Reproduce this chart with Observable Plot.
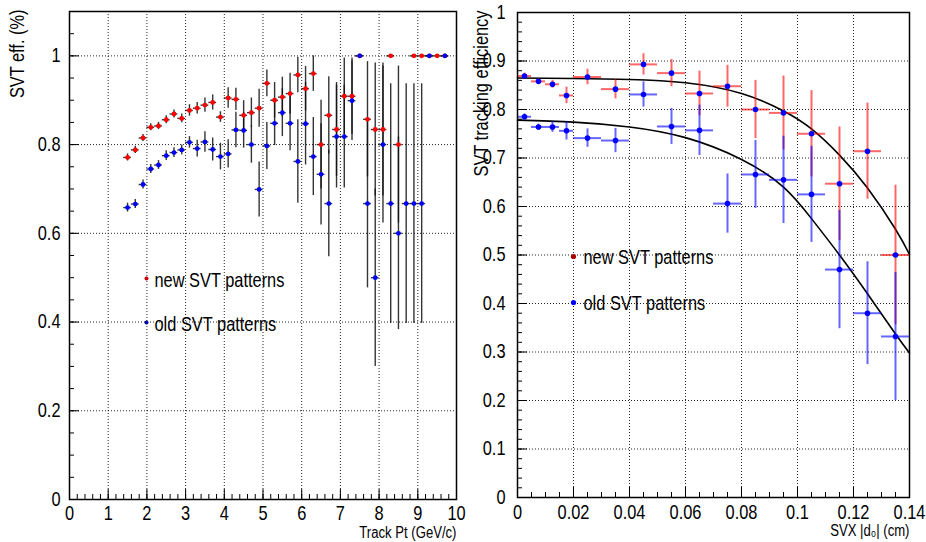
<!DOCTYPE html>
<html><head><meta charset="utf-8">
<script src="https://cdn.jsdelivr.net/npm/d3@7"></script>
<script src="https://cdn.jsdelivr.net/npm/@observablehq/plot@0.6"></script>
<style>
body{margin:0;background:#fff;}
#wrap{width:926px;height:542px;display:flex;background:#fff;}
.panel{width:463px;height:542px;}
</style></head>
<body><div id="wrap"><div class="panel" id="left"></div><div class="panel" id="right"></div></div>
<script>
// ---------- Left panel data: efficiency vs Track Pt ----------
const newPt  = [1.5,1.7,1.9,2.1,2.3,2.5,2.7,2.9,3.1,3.3,3.5,3.7,3.9,4.1,4.3,4.5,4.7,4.9,5.1,5.3,5.5,5.7,5.9,6.1,6.3,6.5,6.7,6.9,7.1,7.3,7.5,7.7,7.9,8.1,8.3,8.5,8.9,9.1,9.3,9.5,9.7];
const newEff = [0.771,0.788,0.815,0.839,0.842,0.856,0.869,0.859,0.877,0.882,0.889,0.895,0.862,
                0.905,0.902,0.866,0.872,0.882,0.938,0.900,0.907,0.915,0.957,0.926,0.960,
                0.800,0.866,0.834,0.909,0.909,1.0,0.857,0.834,0.834,1.0,0.800,
                1.0,1.0,1.0,1.0,1.0];
const newErr = [0.008,0.008,0.008,0.008,0.008,0.009,0.009,0.010,0.013,0.013,0.016,0.017,0.012,
                0.023,0.025,0.033,0.033,0.043,0.030,0.040,0.045,0.046,0.040,0.050,0.040,
                0.100,0.087,0.106,0.086,0.086,0,0.130,0.150,0.150,0,0.177,
                0,0,0,0,0];
const oldPt  = [1.5,1.7,1.9,2.1,2.3,2.5,2.7,2.9,3.1,3.3,3.5,3.7,3.9,4.1,4.3,4.5,4.7,4.9,5.1,5.3,5.5,5.7,5.9,6.1,6.3,6.5,6.7,6.9,7.1,7.3,7.5,7.7,7.9,8.1,8.3,8.5,8.7,8.9,9.1,9.3,9.7];
const oldEff = [0.658,0.666,0.710,0.745,0.754,0.775,0.782,0.788,0.805,0.791,0.806,0.789,0.773,
                0.779,0.833,0.832,0.800,0.699,0.797,0.848,0.872,0.848,0.762,0.847,0.773,
                0.733,0.667,0.818,0.818,0.899,1.0,0.667,0.500,0.800,0.667,0.600,
                0.667,0.667,0.667,1.0,1.0];
const oldErr = [0.010,0.010,0.010,0.010,0.010,0.011,0.011,0.011,0.013,0.019,0.023,0.026,0.030,
                0.032,0.040,0.040,0.042,0.062,0.053,0.050,0.054,0.062,0.094,0.093,0.088,
                0.114,0.120,0.116,0.116,0.090,0,0.190,0.200,0.177,0.270,0.217,
                0.270,0.270,0.270,0,0];
const ptHalfWidth = 0.1;
const ptTicks  = [0,1,2,3,4,5,6,7,8,9,10];
const ptLabels = ["0","1","2","3","4","5","6","7","8","9","10"];
const effTicksL  = [0,0.2,0.4,0.6,0.8,1];
const effLabelsL = ["0","0.2","0.4","0.6","0.8","1"];

// ---------- Right panel data: efficiency vs SVX |d0| ----------
const d0Center = [0.0025,0.0075,0.0125,0.0175,0.025,0.035,0.045,0.055,0.065,0.075,0.085,0.095,0.105,0.115,0.125,0.135];
const d0Half   = [0.0025,0.0025,0.0025,0.0025,0.005,0.005,0.005,0.005,0.005,0.005,0.005,0.005,0.005,0.005,0.005,0.005];
const d0New    = [0.869,0.858,0.852,0.829,0.867,0.842,0.893,0.875,0.833,0.848,0.800,0.793,0.750,0.647,0.714,0.500];
const d0NewErr = [0.006,0.006,0.008,0.017,0.016,0.020,0.022,0.028,0.046,0.043,0.060,0.076,0.089,0.117,0.099,0.144];
const d0Old    = [0.785,0.764,0.764,0.756,0.741,0.736,0.831,0.765,0.757,0.606,0.666,0.655,0.625,0.470,0.380,0.332];
const d0OldErr = [0.006,0.006,0.011,0.019,0.019,0.025,0.026,0.037,0.052,0.061,0.070,0.090,0.099,0.122,0.106,0.132];
// fit curves
const fitD     = [0,0.02,0.04,0.06,0.08,0.095,0.105,0.115,0.125,0.135,0.14];
const fitNew   = [0.865,0.864,0.862,0.855,0.833,0.797,0.760,0.706,0.638,0.553,0.501];
const fitOld   = [0.778,0.774,0.764,0.742,0.697,0.640,0.575,0.500,0.420,0.337,0.298];
const d0Ticks  = [0,0.02,0.04,0.06,0.08,0.1,0.12,0.14];
const d0Labels = ["0","0.02","0.04","0.06","0.08","0.1","0.12","0.14"];
const effTicksR  = [0,0.1,0.2,0.3,0.4,0.5,0.6,0.7,0.8,0.9,1];
const effLabelsR = ["0","0.1","0.2","0.3","0.4","0.5","0.6","0.7","0.8","0.9","1"];

const FONT = '"Liberation Sans",Arial,sans-serif';
const gridStyle = {stroke:"#000", strokeOpacity:0.85, strokeDasharray:"1,2", strokeWidth:1};

function axes(xt, xl, xminor, yt, yl, yminor, xPad, yPad) {
  return [
    Plot.axisX({ticks:xt, tickFormat:(d,i)=>xl[i], tickSize:-10, tickPadding:xPad, fontSize:20, label:null}),
    Plot.axisX({ticks:xminor, tickFormat:()=>"", tickSize:-5, label:null}),
    Plot.axisY({ticks:yt, tickFormat:(d,i)=>yl[i], tickSize:-10, tickPadding:yPad, fontSize:20, label:null}),
    Plot.axisY({ticks:yminor, tickFormat:()=>"", tickSize:-5, label:null})
  ];
}

// narrow the Helvetica-like glyphs (original uses a narrow Helvetica) along each text's own direction
function condense(svg, k) {
  svg.querySelectorAll("text").forEach(t => {
    const tr = t.getAttribute("transform");
    if (tr && t.textContent) t.setAttribute("transform", tr + ` scale(${k},1)`);
  });
}

// ---------- Left ----------
const rowsL = (X, Y, E) => X.map((x,i)=>({x, y:Y[i], lo:Math.max(0,Y[i]-E[i]), hi:Math.min(1,Y[i]+E[i])}));
const newL = rowsL(newPt, newEff, newErr);
const oldL = rowsL(oldPt, oldEff, oldErr);
const ptMinor = d3.range(0, 51).map(i=>i*0.2);
const effMinorL = d3.range(0, 23).map(i=>i*0.05);

const left = Plot.plot({
  width:463, height:542, marginLeft:69, marginRight:7, marginTop:11, marginBottom:43,
  style:{fontFamily:FONT, fontSize:"20px", background:"none", overflow:"visible"},
  x:{domain:[0,10], label:null},
  y:{domain:[0,1.1], label:null},
  marks:[
    Plot.gridX(ptTicks.slice(1,-1), gridStyle),
    Plot.gridY(effTicksL.slice(1), gridStyle),
    ...[newL, oldL].flatMap(R => [
      Plot.ruleX(R, {x:"x", y1:"lo", y2:"hi", stroke:"#111", strokeOpacity:0.85, strokeWidth:1.4}),
      Plot.ruleY(R, {y:"y", x1:d=>d.x-ptHalfWidth, x2:d=>d.x+ptHalfWidth, stroke:"#111", strokeOpacity:0.85, strokeWidth:1.4})
    ]),
    Plot.dot(newL, {x:"x", y:"y", r:2.4, fill:"#ff0000"}),
    Plot.dot(oldL, {x:"x", y:"y", r:2.4, fill:"#0000ff"}),
    Plot.frame({stroke:"#000", strokeWidth:1.5}),
    ...axes(ptTicks, ptLabels, ptMinor, effTicksL, effLabelsL, effMinorL, 16, 19),
    Plot.text(["Track Pt (GeV/c)"], {frameAnchor:"bottom-right", textAnchor:"end", lineAnchor:"bottom", dy:38, fontSize:16}),
    Plot.text(["SVT eff. (%)"], {frameAnchor:"top-left", rotate:-90, textAnchor:"end", lineAnchor:"bottom", dx:-46, dy:-2, fontSize:20}),
    Plot.dot([0], {frameAnchor:"top-left", dx:77, dy:267, r:2, fill:"#cc0000"}),
    Plot.text(["new SVT patterns"], {frameAnchor:"top-left", dx:85, dy:269, textAnchor:"start", lineAnchor:"middle", fontSize:20}),
    Plot.dot([0], {frameAnchor:"top-left", dx:77, dy:311, r:2, fill:"#0000aa"}),
    Plot.text(["old SVT patterns"], {frameAnchor:"top-left", dx:85, dy:313, textAnchor:"start", lineAnchor:"middle", fontSize:20})
  ]
});
document.getElementById("left").appendChild(left);
condense(left, 0.82);

// ---------- Right ----------
const rowsR = (Y, E) => d0Center.map((x,i)=>({x, h:d0Half[i], y:Y[i], lo:Y[i]-E[i], hi:Math.min(1,Y[i]+E[i])}));
const newR = rowsR(d0New, d0NewErr);
const oldR = rowsR(d0Old, d0OldErr);
const fitRowsNew = fitD.map((x,i)=>({x, y:fitNew[i]}));
const fitRowsOld = fitD.map((x,i)=>({x, y:fitOld[i]}));
const d0Minor = d3.range(0, 29).map(i=>i*0.005);
const effMinorR = d3.range(0, 51).map(i=>i*0.02);

const right = Plot.plot({
  width:463, height:542, marginLeft:54, marginRight:17, marginTop:12, marginBottom:45,
  style:{fontFamily:FONT, fontSize:"20px", background:"none", overflow:"visible"},
  x:{domain:[0,0.14], label:null},
  y:{domain:[0,1], label:null},
  marks:[
    Plot.gridX(d0Ticks.slice(1), gridStyle),
    Plot.gridY(effTicksR.slice(1,-1), gridStyle),
    Plot.line(fitRowsNew, {x:"x", y:"y", curve:"natural", stroke:"#000", strokeWidth:1.6}),
    Plot.line(fitRowsOld, {x:"x", y:"y", curve:"natural", stroke:"#000", strokeWidth:1.6}),
    ...[[newR,"#ff0000"],[oldR,"#0000ff"]].flatMap(([R,c]) => [
      Plot.ruleX(R, {x:"x", y1:"lo", y2:"hi", stroke:c, strokeOpacity:0.6, strokeWidth:2}),
      Plot.ruleY(R, {y:"y", x1:d=>d.x-d.h, x2:d=>d.x+d.h, stroke:c, strokeOpacity:0.6, strokeWidth:2})
    ]),
    Plot.dot(newR, {x:"x", y:"y", r:2.8, fill:"#0000ff"}),
    Plot.dot(oldR, {x:"x", y:"y", r:2.8, fill:"#0000ff"}),
    Plot.frame({stroke:"#000", strokeWidth:1.5}),
    ...axes(d0Ticks, d0Labels, d0Minor, effTicksR, effLabelsR, effMinorR, 17, 22),
    Plot.text(["SVX |d\u2080| (cm)"], {frameAnchor:"bottom-right", textAnchor:"end", lineAnchor:"bottom", dy:38, fontSize:16}),
    Plot.text(["SVT tracking efficiency"], {frameAnchor:"top-left", rotate:-90, textAnchor:"end", lineAnchor:"bottom", dx:-30, dy:-2, fontSize:20}),
    Plot.dot([0], {frameAnchor:"top-left", dx:56, dy:244, r:2.6, fill:"#aa0000"}),
    Plot.text(["new SVT patterns"], {frameAnchor:"top-left", dx:66, dy:245, textAnchor:"start", lineAnchor:"middle", fontSize:20}),
    Plot.dot([0], {frameAnchor:"top-left", dx:56, dy:290, r:2.6, fill:"#0000ff"}),
    Plot.text(["old SVT patterns"], {frameAnchor:"top-left", dx:66, dy:291, textAnchor:"start", lineAnchor:"middle", fontSize:20})
  ]
});
document.getElementById("right").appendChild(right);
condense(right, 0.82);
</script>
</body></html>
